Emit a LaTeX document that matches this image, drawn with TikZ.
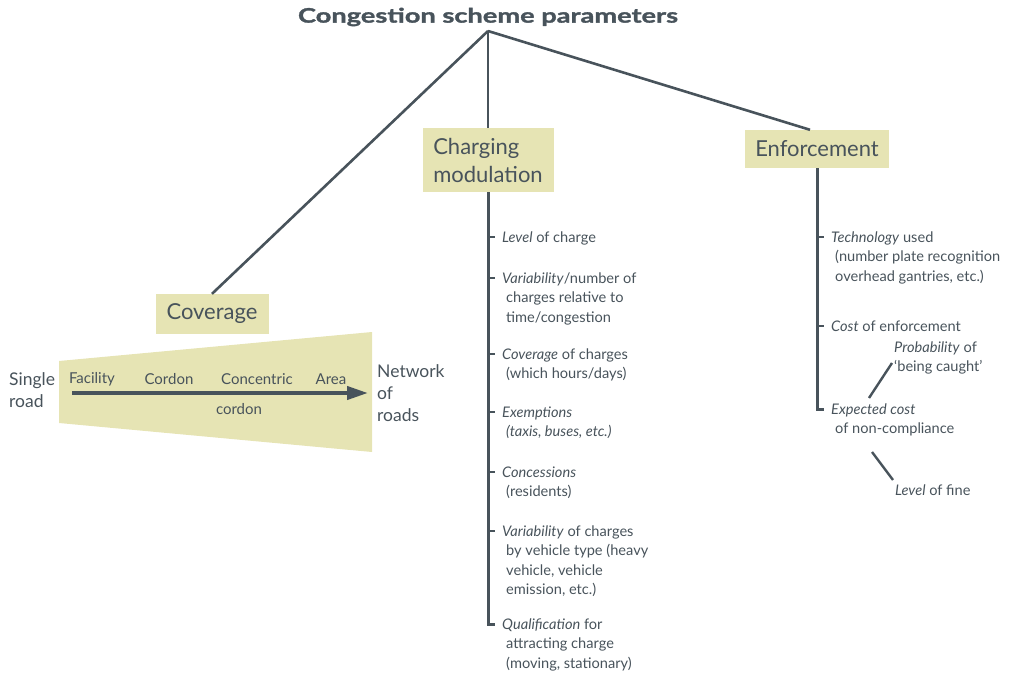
\documentclass[tikz,border=0pt]{standalone}
\usepackage{fontspec}
\setmainfont{Lato}
\newfontfamily\cstitlefont{Lato}[FakeStretch=1.36, BoldFeatures={FakeBold=1.6}]
\usepackage{xcolor}
\usepackage{tikz}
\usetikzlibrary{arrows.meta,calc}
\definecolor{csInk}{HTML}{48535B}
\definecolor{csSand}{HTML}{E6E4B4}
\newcommand{\csind}{\hspace*{4pt}}
\newcommand{\csrows}[1]{\begin{tabular}[t]{@{}l@{}}#1\end{tabular}}
\tikzset{
  cs diagram/.style={x=1pt, y=-1pt, text=csInk, line cap=butt, line join=miter},
  cs title/.style={font={\cstitlefont\bfseries\fontsize{20}{24}\selectfont}, inner sep=0pt},
  cs box/.style={fill=csSand, inner sep=10pt, align=left,
    font={\fontsize{22}{28}\selectfont}},
  cs link/.style={draw=csInk, line width=2.6pt},
  cs spine/.style={draw=csInk, line width=3pt},
  cs tick/.style={draw=csInk, line width=1.4pt},
  cs slash/.style={draw=csInk, line width=2.4pt},
  cs item/.style={anchor=base west, inner sep=0pt,
    font={\fontsize{14.6}{19.5}\selectfont}},
  cs band/.style={fill=csSand},
  cs scale/.style={inner sep=0pt, font={\fontsize{15}{19}\selectfont}},
  cs end/.style={anchor=west, align=left, inner sep=0pt,
    font={\fontsize{17.5}{22}\selectfont}},
  cs arrow/.style={-{Triangle[length=21pt,width=13pt]}, draw=csInk, line width=4pt}
}
\begin{document}
\begin{tikzpicture}[cs diagram]
\useasboundingbox (0,0) rectangle (1009,674);
\node[cs title] (title) at (488,17) {Congestion scheme parameters};
\coordinate (apex) at (488,31);
\node[cs box, minimum width=113, minimum height=38] (cov) at (212,314) {Coverage};
\node[cs box, minimum width=131, minimum height=64] (chg) at (488,160) {Charging\\modulation};
\node[cs box, minimum width=144, minimum height=38] (enf) at (817,149) {Enforcement};
\draw[cs link] (apex) -- (cov.north);
\draw[cs link] (apex) -- (chg.north);
\draw[cs link] (apex) -- ([xshift=-7pt]enf.north);
% coverage scale
\fill[cs band] (59,361) -- (372,332) -- (372,452) -- (59,423) -- cycle;
\node[cs end] (single) at (9,390) {Single\\road};
\node[cs end] (network) at (377,393) {Network\\of\\roads};
\draw[cs arrow,shorten <=17pt,shorten >=9pt] (single.east |- network.west) -- (network.west);
\node[cs scale] (facility) at (92,379) {Facility};
\node[cs scale] (cordon) at (169,379) {Cordon};
\node[cs scale] (concentric) at (257,379) {Concentric};
\node[cs scale] (area) at (331,379) {Area};
\node[cs scale] (ccordon) at (239,409) {cordon};
% charging modulation
\node[cs item] (lvl) at (502,242) {\textit{Level} of charge};
\node[cs item] (var) at (502,283) {\csrows{\textit{Variability}/number of\\\csind charges relative to\\\csind time/congestion}};
\node[cs item] (cvg) at (502,359) {\csrows{\textit{Coverage} of charges\\\csind(which hours/days)}};
\node[cs item] (exm) at (502,417) {\csrows{\textit{Exemptions}\\\csind\textit{(taxis, buses, etc.)}}};
\node[cs item] (con) at (502,477) {\csrows{\textit{Concessions}\\\csind(residents)}};
\node[cs item] (vty) at (502,536) {\csrows{\textit{Variability} of charges\\\csind by vehicle type (heavy\\\csind vehicle, vehicle\\\csind emission, etc.)}};
\node[cs item] (qual) at (502,629) {\csrows{\textit{Qualification} for\\\csind attracting charge\\\csind(moving, stationary)}};
\draw[cs spine] (chg.south) |- ($(qual.base west)+(-7,-5)$);
\foreach \itm in {lvl,var,cvg,exm,con,vty}
  \draw[cs tick] ($(\itm.base west)+(-14,-5)$) -- ++(7,0);
% enforcement
\node[cs item] (tech) at (831,242) {\csrows{\textit{Technology} used\\\csind(number plate recognition\\\csind overhead gantries, etc.)}};
\node[cs item] (cost) at (831,331) {\textit{Cost} of enforcement};
\node[cs item] (exp) at (831,414) {\csrows{\textit{Expected cost}\\\csind of non-compliance}};
\node[cs item] (prob) at (894,352) {\csrows{\textit{Probability} of\\`being caught'}};
\node[cs item] (fine) at (895,495) {\textit{Level} of fine};
\draw[cs spine] (enf.south) |- ($(exp.base west)+(-7,-5)$);
\foreach \itm in {tech,cost}
  \draw[cs tick] ($(\itm.base west)+(-14,-5)$) -- ++(7,0);
\draw[cs slash] ($(exp.base west)+(38,-16)$) -- ($(prob.base west)+(-2,11)$);
\draw[cs slash] ($(exp.base west)+(41,38)$) -- ($(fine.base west)+(-2,-15)$);
\end{tikzpicture}
\end{document}
